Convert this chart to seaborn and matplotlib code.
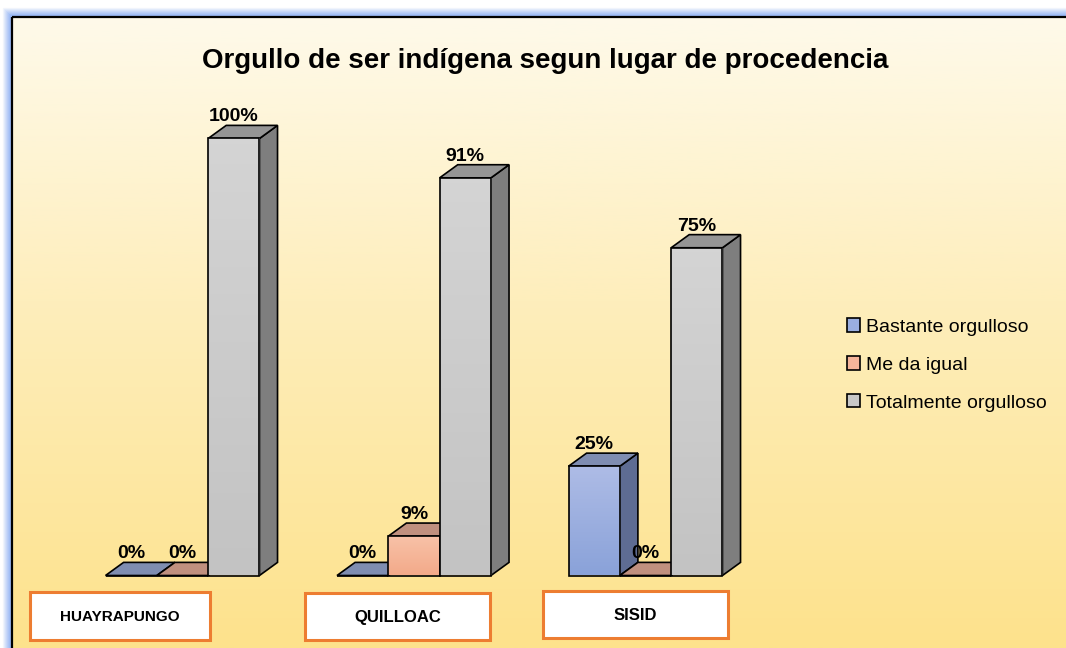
import numpy as np
import pandas as pd
import matplotlib
matplotlib.use("Agg")
import matplotlib.pyplot as plt
from matplotlib.patches import Polygon, Rectangle, Patch
import seaborn as sns

# datos del grafico
lugares = ['HUAYRAPUNGO', 'QUILLOAC', 'SISID']
series = ['Bastante orgulloso', 'Me da igual', 'Totalmente orgulloso']
bastante = [0, 0, 25]
me_da_igual = [0, 9, 0]
totalmente = [100, 91, 75]
titulo = 'Orgullo de ser indígena segun lugar de procedencia'

df = pd.DataFrame({
    'lugar': lugares * 3,
    'serie': np.repeat(series, 3),
    'pct': bastante + me_da_igual + totalmente,
})

# colores (frente arriba, frente abajo, lado, tapa, leyenda)
front_top = ['#AEBCE6', '#F8C2A8', '#D4D4D4']
front_bot = ['#8AA2D9', '#F3AA8A', '#C3C3C3']
side_col = ['#5E6C93', '#A8786A', '#7E7E7E']
top_col = ['#7F8DB1', '#C0907F', '#959595']
legend_col = ['#9AAEE0', '#F5B49A', '#C8C8C8']

W, H = 1066, 648
sns.set_theme(style='white')
plt.rcParams['font.family'] = ['Liberation Sans', 'DejaVu Sans']
plt.rcParams['text.color'] = 'black'

fig = plt.figure(figsize=(W / 100, H / 100), dpi=100)

# fondo en coordenadas de pixel
bg = fig.add_axes([0, 0, 1, 1])
bg.set_xlim(0, W)
bg.set_ylim(H, 0)
bg.axis('off')

t = np.linspace(0, 1, 256)
rgb = np.stack([
    np.interp(t, [0, 0.45, 1], [254, 254, 253]),
    np.interp(t, [0, 0.45, 1], [250, 238, 226]),
    np.interp(t, [0, 0.45, 1], [234, 188, 140]),
], axis=-1) / 255
bg.imshow(rgb[:, None, :], extent=(12, W, H, 17), aspect='auto', zorder=0)

# halo azul y marco
for i in range(1, 10):
    bg.add_patch(Rectangle((12 - i, 17 - i), W + 20, H + 20, fill=False,
                           edgecolor=(0.45, 0.62, 0.95), alpha=0.85 * (1 - i / 10),
                           lw=0.9, zorder=1))
bg.add_patch(Rectangle((12, 17), W + 20, H + 20, fill=False, edgecolor='black', lw=1.6, zorder=2))

bg.text(545.5, 68, titulo, ha='center', va='baseline', fontsize=20, fontweight='bold', zorder=5)

# cajas de categorias
cajas = [(30, 592, 180, 48, 11), (305, 593, 185, 47, 12), (543, 591, 185, 47, 12)]
for nombre, (bx, by, bw, bh, fs) in zip(lugares, cajas):
    bg.add_patch(Rectangle((bx, by), bw, bh, facecolor='white', edgecolor='#ED7D31', lw=2.2, zorder=4))
    bg.text(bx + bw / 2, by + bh / 2 + 1, nombre, ha='center', va='center',
            fontsize=fs, fontweight='bold', zorder=5)

# barras
ax = fig.add_axes([0, 0, 1, 1])
ax.set_facecolor('none')
sns.barplot(data=df, x='lugar', y='pct', hue='serie', order=lugares, hue_order=series,
            palette=legend_col, width=0.665, saturation=1, edgecolor='black',
            linewidth=1.2, ax=ax, legend=False)

dx, dy = 0.078, 3.0
for k, cont in enumerate(ax.containers):
    grad = np.stack([np.linspace(a, b, 64) for a, b in zip(
        matplotlib.colors.to_rgb(front_top[k]), matplotlib.colors.to_rgb(front_bot[k]))], axis=-1)
    z = 3 + 3 * k
    for bar in cont:
        x, w, h = bar.get_x(), bar.get_width(), bar.get_height()
        ax.add_patch(Polygon([(x + w, 0), (x + w + dx, dy), (x + w + dx, h + dy), (x + w, h)],
                             closed=True, facecolor=side_col[k], edgecolor='black', lw=1.2, zorder=z))
        ax.add_patch(Polygon([(x, h), (x + w, h), (x + w + dx, h + dy), (x + dx, h + dy)],
                             closed=True, facecolor=top_col[k], edgecolor='black', lw=1.2, zorder=z))
        if h > 0:
            im = ax.imshow(grad[:, None, :], extent=(x, x + w, 0, h), aspect='auto',
                           origin='upper', zorder=z + 1.1)
            im.set_clip_path(bar)
            bar.set_facecolor('none')
        bar.set_zorder(z + 1.2)
        ax.text(x + w / 2, h + dy + 0.9, f'{h:.0f}%', ha='center', va='baseline',
                fontsize=14, fontweight='bold', color='black', zorder=20)

ax.set_xlim((0 - 182.5) / 231.5, (W - 182.5) / 231.5)
ax.set_ylim((575.5 - H) / 4.37, 575.5 / 4.37)
ax.axis('off')

handles = [Patch(facecolor=c, edgecolor='black', lw=1.2) for c in legend_col]
leg = ax.legend(handles, series, loc='center left', bbox_to_anchor=(847 / W, 1 - 365 / H),
                bbox_transform=fig.transFigure, frameon=False, fontsize=14,
                handlelength=0.67, handleheight=0.67, handletextpad=0.3,
                labelspacing=1.05, borderpad=0, borderaxespad=0)
for txt in leg.get_texts():
    txt.set_color('black')

fig.savefig('out.png', dpi=100)
